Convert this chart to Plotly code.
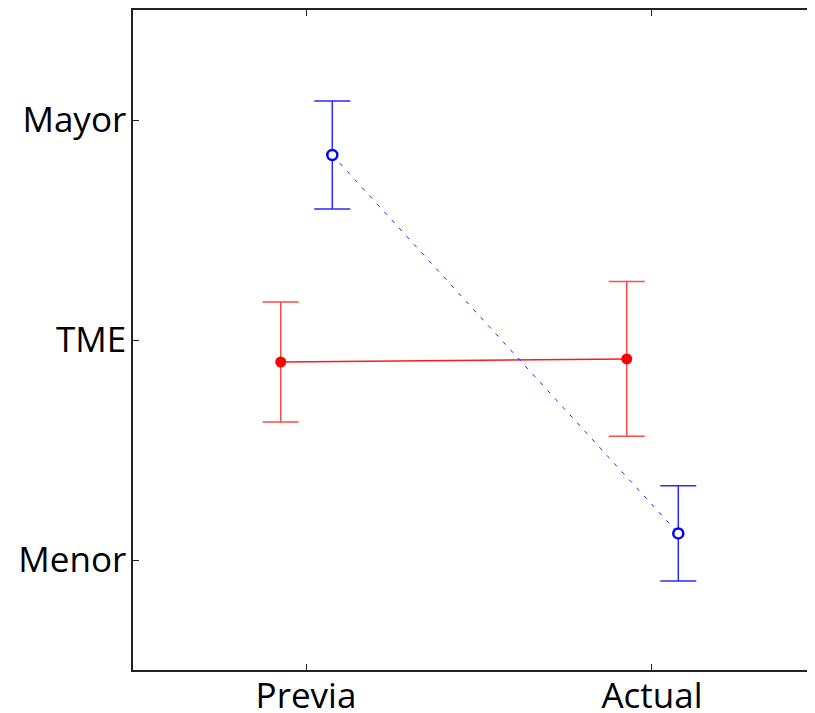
import plotly.graph_objects as go

categories = ["Previa", "Actual"]
cat_pos = [0, 1]
y_tick_vals = [-1, 0, 1]
y_tick_text = ["Menor", "TME", "Mayor"]

tme_mean = [-0.10, -0.086]
tme_err = [0.273, 0.352]

otro_mean = [0.841, -0.879]
otro_err = [0.245, 0.217]

red_off = -0.073
blue_off = 0.076

fig = go.Figure()

fig.add_trace(go.Scatter(
    x=[p + red_off for p in cat_pos], y=tme_mean,
    mode="lines+markers",
    line=dict(color="#ff1a1a", width=1.5),
    marker=dict(color="#ff0000", size=11, symbol="circle"),
    error_y=dict(type="data", array=tme_err, visible=True, color="#ff4a4a",
                 thickness=1.5, width=18),
    showlegend=False,
))

fig.add_trace(go.Scatter(
    x=[p + blue_off for p in cat_pos], y=otro_mean,
    mode="lines+markers",
    line=dict(color="#2222ff", width=1, dash="4px,7px"),
    marker=dict(color="white", size=10, symbol="circle",
                line=dict(color="#0000ff", width=2.5)),
    error_y=dict(type="data", array=otro_err, visible=True, color="#2a2aff",
                 thickness=1.5, width=18),
    showlegend=False,
))

# the page body has an 8px margin, compensated by the figure size and margins
fig.update_layout(
    template="none",
    width=799, height=705,
    margin=dict(l=125, r=0, t=2, b=43, pad=0),
    paper_bgcolor="white", plot_bgcolor="white",
    font=dict(family="Open Sans", size=35, color="black"),
    xaxis=dict(
        range=[-0.5, 1.448], tickvals=cat_pos, ticktext=categories,
        showgrid=False, zeroline=False, showline=True, linecolor="#222",
        linewidth=1.5, mirror="ticks", ticks="inside", ticklen=6,
        tickcolor="#222", automargin=False, ticklabelstandoff=-6,
    ),
    yaxis=dict(
        range=[-1.5, 1.5], tickvals=y_tick_vals, ticktext=y_tick_text,
        showgrid=False, zeroline=False, showline=True, linecolor="#222",
        linewidth=1.5, mirror=False, ticks="inside", ticklen=6,
        tickcolor="#222", automargin=False, ticklabelstandoff=-2,
    ),
)

fig.write_html("out.html")
